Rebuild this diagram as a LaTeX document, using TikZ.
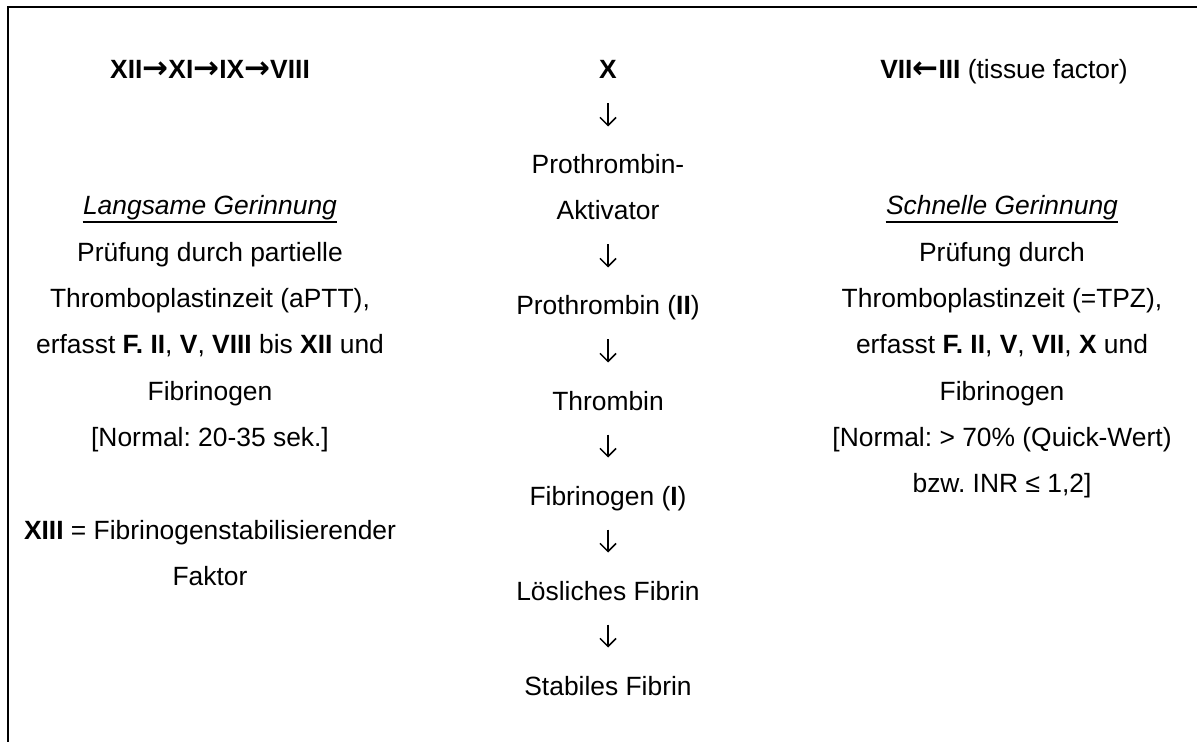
\documentclass[tikz,border=0pt]{standalone}
\usepackage{fontspec}
\setmainfont{Liberation Sans}
\newfontfamily\arrowfont{DejaVu Sans}
\usetikzlibrary{arrows.meta,calc}
\newcommand{\rarr}{{\arrowfont\bfseries\fontsize{15.5}{16}\selectfont →}}
\newcommand{\larr}{{\arrowfont\bfseries\fontsize{15.5}{16}\selectfont ←}}
\begin{document}
\frenchspacing
\begin{tikzpicture}[x=0.5pt,y=-0.5pt,
  txt/.style={anchor=base,inner sep=0pt,font=\fontsize{13.2}{16}\selectfont},
  flow/.style={-{Straight Barb[length=4pt,width=8pt]},line width=0.75pt},
  uline/.style={line width=0.65pt},
  frameline/.style={line width=1pt,line cap=rect}]
\useasboundingbox (0,0) rectangle (1197,742);
\draw[frameline] (8,742) -- (8,7) -- (1197,7);
% left column
\node[txt] (l0) at (210,79) {\textbf{XII\rarr XI\rarr IX\rarr VIII}};
\node[txt] (l1) at (210,215) {\textit{Langsame Gerinnung}};
\node[txt] (l2) at (210,261.3) {Prüfung durch partielle};
\node[txt] (l3) at (210,307.6) {Thromboplastinzeit (aPTT),};
\node[txt] (l4) at (210,353.9) {erfasst \textbf{F. II}, \textbf{V}, \textbf{VIII} bis \textbf{XII} und};
\node[txt] (l5) at (210,400.2) {Fibrinogen};
\node[txt] (l6) at (210,446.5) {[Normal: 20-35 sek.]};
\node[txt] (l7) at (210,539) {\textbf{XIII} = Fibrinogenstabilisierender};
\node[txt] (l8) at (210,585.5) {Faktor};
\draw[uline] ($(l1.base west)+(0,7)$) -- ($(l1.base east)+(0,7)$);
% centre column
\node[txt] (c0) at (608,79) {\textbf{X}};
\node[txt] (c1) at (608,174) {Prothrombin-};
\node[txt] (c2) at (608,220) {Aktivator};
\node[txt] (c3) at (608,315) {Prothrombin (\textbf{II})};
\node[txt] (c4) at (608,410) {Thrombin};
\node[txt] (c5) at (608,505) {Fibrinogen (\textbf{I})};
\node[txt] (c6) at (608,600) {Lösliches Fibrin};
\node[txt] (c7) at (608,695) {Stabiles Fibrin};
\foreach \a/\b in {c0/c1,c2/c3,c3/c4,c4/c5,c5/c6,c6/c7}
  \draw[flow] ($(\a.base)!0.5!(\b.base)+(0,-23)$) -- ($(\a.base)!0.5!(\b.base)$);
% right column
\node[txt] (r0) at (1004,79) {\textbf{VII\larr III} (tissue factor)};
\node[txt] (r1) at (1002,215) {\textit{Schnelle Gerinnung}};
\node[txt] (r2) at (1002,261.3) {Prüfung durch};
\node[txt] (r3) at (1002,307.6) {Thromboplastinzeit (=TPZ),};
\node[txt] (r4) at (1002,353.9) {erfasst \textbf{F. II}, \textbf{V}, \textbf{VII}, \textbf{X} und};
\node[txt] (r5) at (1002,400.2) {Fibrinogen};
\node[txt] (r6) at (1002,446.5) {[Normal: > 70\% (Quick-Wert)};
\node[txt] (r7) at (1002,492.8) {bzw. INR ≤ 1,2]};
\draw[uline] ($(r1.base west)+(0,7)$) -- ($(r1.base east)+(0,7)$);
\end{tikzpicture}
\end{document}
